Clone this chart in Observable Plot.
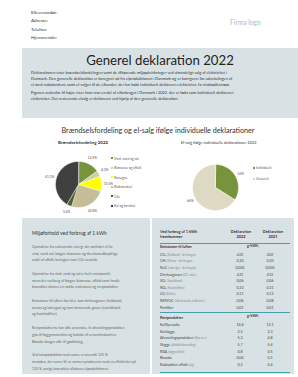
<!DOCTYPE html>
<html><head><meta charset="utf-8">
<script src="https://cdn.jsdelivr.net/npm/d3@7"></script>
<script src="https://cdn.jsdelivr.net/npm/@observablehq/plot@0.6"></script>
<style>
html,body{margin:0;padding:0;background:#fff;}
#page{position:relative;width:298px;height:377px;overflow:hidden;font-family:Lato,"Open Sans",sans-serif;color:#262626;}
.a{position:absolute;white-space:nowrap;}
.box{position:absolute;background:#d8e2e5;}
.p{position:absolute;white-space:nowrap;color:#555;}
.leg{position:absolute;white-space:nowrap;font-size:3.3px;line-height:4px;color:#595959;}
.leg i{display:inline-block;width:2px;height:2px;margin-right:1.6px;vertical-align:0.3px;}
.row{position:absolute;left:160px;width:130px;height:6.6px;font-size:3.6px;line-height:6.6px;color:#444;}
.row span{position:absolute;white-space:nowrap;}
.row .s{font-size:2.8px;color:#888;}
.hr{position:absolute;left:160px;width:130px;height:0.8px;background:#4a9fae;}
</style></head>
<body><div id="page"></div>
<script>
// ---------- data ----------
const headerLines = ["Elleverandør:", "Adresse:", "Telefon:", "Hjemmeside:"];
const fuelLabels = ["Vind, vand og sol", "Biomasse og affald", "Naturgas", "Biobrændsel", "Olie", "Kul og brunkul"];
const fuelShares = [14.9, 4.0, 10.5, 24.8, 3.4, 41.1];
const salesLabels = ["Individuelt", "Generelt"];
const salesShares = [34, 66];
const emissionNames = ["CO₂", "CH₄", "N₂O", "Drivhusgasser", "SO₂", "NOₓ", "CO", "NMVOC", "Partikler"];
const emissionNotes = ["(Kuldioxid - drivhusgas)", "(Metan - drivhusgas)", "(Lattergas - drivhusgas)", "(CO₂-ækv.)", "(Svovldioxid)", "(Kvælstofilter)", "(Kulilte)", "(Uforbrændte kulbrinter)", ""];
const emission2022 = ["422", "0,30", "0,005", "431", "0,06", "0,33", "0,11", "0,06", "0,01"];
const emission2021 = ["402", "0,30", "0,005", "412", "0,06", "0,31", "0,12", "0,08", "0,01"];
const residueNames = ["Kulflyveaske", "Kulslagge", "Afsvovlingsprodukter", "Slagge", "RGA", "Bioaske", "Radioaktivt affald"];
const residueNotes = ["", "", "(Gips m.v.)", "(affaldsforbrænding)", "(røggasaffald)", "", "(mg)"];
const residue2022 = ["14,6", "2,5", "5,3", "5,7", "0,8", "0,04", "0,3"];
const residue2021 = ["13,1", "2,3", "4,8", "5,4", "0,5", "0,1", "0,4"];

// ---------- styles ----------
const fuelColors = ["#77933c", "#c3d69b", "#ffff00", "#c4bd97", "#4f6228", "#404040"];
const salesColors = ["#77933c", "#ddd9c3"];

const page = document.getElementById("page");
function add(html){ page.insertAdjacentHTML("beforeend", html); }

// header
headerLines.forEach((t,i)=>add(`<div class="a" style="left:31px;top:${10+i*8.3}px;font-size:4.6px;line-height:5px;color:#333">${t}</div>`));
add(`<div class="a" style="left:230px;top:18px;font-size:6.6px;line-height:8px;color:#b4c6ce;font-weight:600">Firma logo</div>`);

// top box
add(`<div class="box" style="left:22px;top:48px;width:276px;height:70px"></div>`);
add(`<div class="a" style="left:22px;width:276px;top:52px;text-align:center;font-size:13.2px;line-height:16px;color:#222">Generel deklaration 2022</div>`);
const intro = [
 "Deklarationen viser brændselsfordelingen samt de tilhørende miljøpåvirkninger ved almindeligt salg af elektricitet i",
 "Danmark. Den generelle deklaration er beregnet ud fra elproduktionen i Danmark og er korrigeret for udvekslingen af",
 "el med nabolandene samt el-salget til de elkunder, der har købt individuelt deklareret elektricitet, fx vindmøllestrøm.",
 null,
 "Figuren nedenfor til højre viser hvor stor en del af elforbruget i Danmark i 2022, der er købt som individuelt deklareret",
 "elektricitet. Det resterende elsalg er deklareret ved hjælp af den generelle deklaration."];
let yy = 69.5;
intro.forEach(t=>{ if(t===null){yy+=2;return;} add(`<div class="p" style="left:31px;top:${yy}px;font-size:3.95px;line-height:6px;color:#333">${t}</div>`); yy+=6; });

// section title
add(`<div class="a" style="left:0;width:316px;top:126px;text-align:center;font-size:7.2px;line-height:10px;color:#333">Brændselsfordeling og el-salg ifølge individuelle deklarationer</div>`);
add(`<div class="a" style="left:58px;top:140px;font-size:4.5px;line-height:6px;font-weight:700;color:#333">Brændselsfordeling 2022</div>`);
add(`<div class="a" style="left:181px;top:140px;font-size:3.9px;line-height:6px;color:#333">El-salg ifølge individuelle deklarationer 2022</div>`);

// pies
function pie(labels, values, colors, {width, height, r, labelR, fmt}) {
  const data = labels.map((l,i)=>({label:l, value:values[i]}));
  const arcs = d3.pie().sort(null).value(d=>d.value)(data);
  const pts = arcs.flatMap(a=>{
    const n = Math.max(3, Math.ceil((a.endAngle-a.startAngle)/0.02));
    const p = [{label:a.data.label, x:0, y:0}];
    for(let k=0;k<=n;k++){const t=a.startAngle+(a.endAngle-a.startAngle)*k/n; p.push({label:a.data.label, x:Math.sin(t), y:Math.cos(t)});}
    return p;
  });
  const lbl = arcs.map(a=>{const m=(a.startAngle+a.endAngle)/2; return {text:fmt(a.data.value), x:labelR*Math.sin(m), y:labelR*Math.cos(m)};});
  return Plot.plot({
    width, height, margin:0,
    style:{background:"transparent", overflow:"visible"},
    x:{domain:[-width/2/r, width/2/r], axis:null},
    y:{domain:[-height/2/r, height/2/r], axis:null},
    color:{domain:labels, range:colors},
    marks:[
      Plot.line(pts,{x:"x", y:"y", z:"label", fill:"label", stroke:"white", strokeWidth:0.5, curve:"linear-closed"}),
      Plot.text(lbl,{x:"x", y:"y", text:"text", fontSize:3.4, fill:"#595959", fontFamily:"Lato"})
    ]
  });
}
const fmt1 = v => v.toFixed(1).replace(".", ",") + "%";
const fmt0 = v => Math.round(v) + "%";
const p1 = pie(fuelLabels, fuelShares, fuelColors, {width:90, height:70, r:23, labelR:1.3, fmt:fmt1});
const d1 = document.createElement("div"); d1.className="a"; d1.style.left=(78-45)+"px"; d1.style.top=(184-35)+"px"; d1.appendChild(p1); page.appendChild(d1);
const p2 = pie(salesLabels, salesShares, salesColors, {width:90, height:70, r:23, labelR:1.25, fmt:fmt0});
const d2 = document.createElement("div"); d2.className="a"; d2.style.left=(215-45)+"px"; d2.style.top=(187-35)+"px"; d2.appendChild(p2); page.appendChild(d2);

// legends
fuelLabels.forEach((l,i)=>add(`<div class="leg" style="left:110.5px;top:${156.7+i*9.5}px"><i style="background:${fuelColors[i]}"></i>${l}</div>`));
salesLabels.forEach((l,i)=>add(`<div class="leg" style="left:252.5px;top:${166+i*11}px"><i style="background:${salesColors[i]}"></i>${l}</div>`));

// bottom left box
add(`<div class="box" style="left:22px;top:218px;width:128px;height:156px"></div>`);
add(`<div class="a" style="left:32px;top:229.5px;font-size:5px;line-height:7px;color:#333">Miljøforhold ved forbrug af 1 kWh</div>`);
const paras = [
 ["Oprindelse fra vedvarende energi, der omfatter el fra","vind, vand, sol, biogas, biomasse og den bionedbrydelige","andel af affald, betragtes som CO₂ neutralt."],
 ["Oprindelse fra vind, vand og sol er helt emissionsfri,","mens der ved brug af biogas, biomasse, affald samt fossile","brændsler dannes en række emissioner og restprodukter."],
 ["Emissioner til luften sker bl.a. som drivhusgasser (kuldioxid,","metan og lattergas) og som forsurende gasser (svovldioxid","og kvælstofilter)."],
 ["Restprodukterne kan ofte anvendes, fx afsvovlingsprodukter:","gips til byggematerialer og kulaske til cementindustrien.","Bioaske bruges ofte til gødskning."],
 ["Ved samproduktion med varme er anvendt 125 %","metoden, der svarer til, at varmen produceres med en effektivitet på","125 %, øvrige brændsler allokeres elproduktionen."]];
let py = 244;
paras.forEach(pp=>{ pp.forEach(t=>{ add(`<div class="p" style="left:32px;top:${py}px;font-size:3.5px;line-height:6.6px;color:#666">${t}</div>`); py+=6.6; }); py+=7.3; });

// table box
add(`<div class="box" style="left:152px;top:218px;width:142px;height:156px"></div>`);
add(`<div class="a" style="left:160px;top:230px;font-size:3.9px;line-height:4.8px;font-weight:700;color:#333">Ved forbrug af 1 kWh<br>fremkommer</div>`);
add(`<div class="a" style="left:224px;width:34px;top:230px;text-align:center;font-size:3.9px;line-height:4.8px;font-weight:700;color:#333">Deklaration<br>2022</div>`);
add(`<div class="a" style="left:256px;width:34px;top:230px;text-align:center;font-size:3.9px;line-height:4.8px;font-weight:700;color:#333">Deklaration<br>2021</div>`);
add(`<div class="hr" style="top:242.6px"></div>`);
function section(title, names, notes, v1, v2, y0){
  add(`<div class="row" style="top:${y0-3.3}px"><span style="left:0;font-weight:700;color:#333">${title}</span><span style="left:240px;"></span><span style="left:87px;font-weight:700;font-size:3.6px;color:#333;top:-1.5px">g/kWh</span></div>`);
  names.forEach((n,i)=>{
    const y = y0 + 7.5 + i*6.6;
    add(`<div class="row" style="top:${y-3.3}px"><span style="left:0">${n} <span class="s" style="position:static">${notes[i]}</span></span><span style="left:70px;width:20px;text-align:center">${v1[i]}</span><span style="left:100px;width:20px;text-align:center">${v2[i]}</span></div>`);
  });
}
section("Emissioner til luften", emissionNames, emissionNotes, emission2022, emission2021, 247.5);
add(`<div class="hr" style="top:311.8px"></div>`);
section("Restprodukter", residueNames, residueNotes, residue2022, residue2021, 318);
add(`<div class="hr" style="top:371.5px"></div>`);
</script></body></html>
